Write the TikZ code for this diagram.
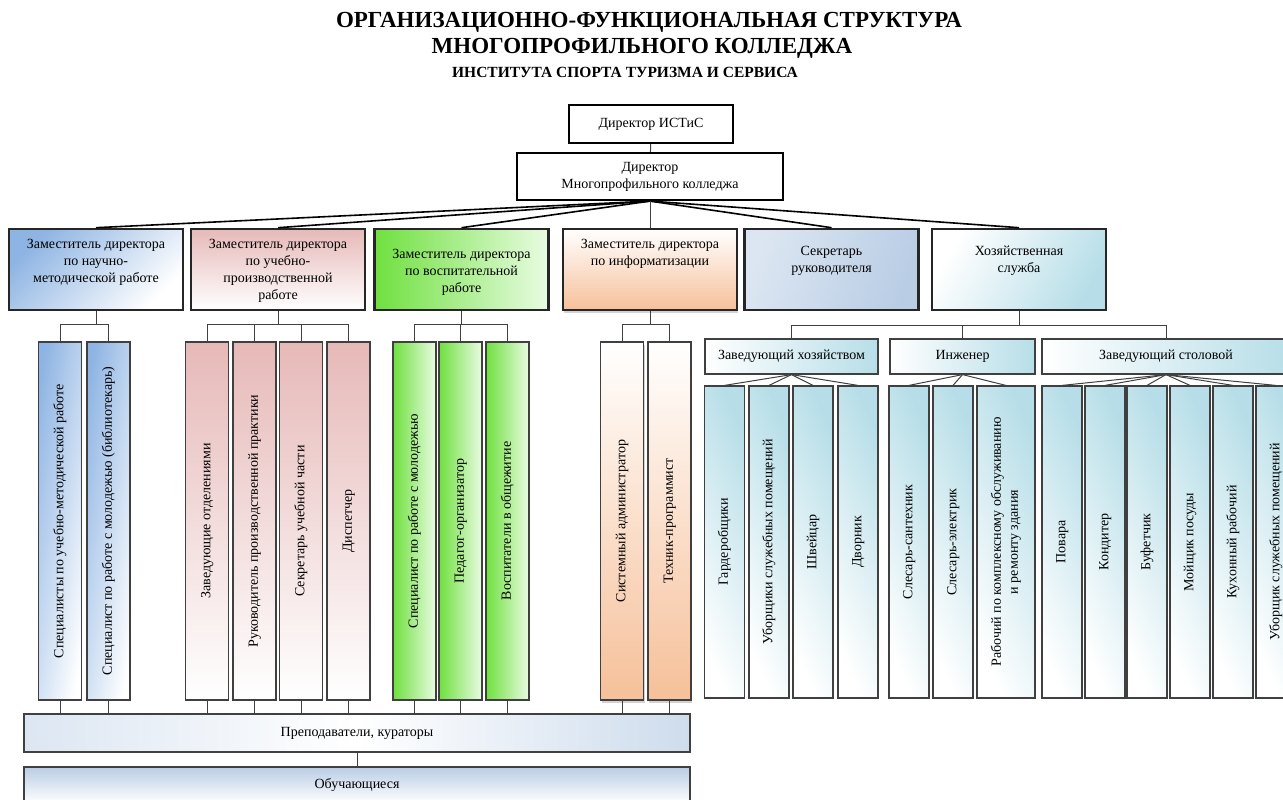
\documentclass[tikz,border=0pt]{standalone}
\usepackage{fontspec}
\setmainfont{Liberation Serif}
\usepackage{graphicx}
\usetikzlibrary{shadows}

\definecolor{deepblue}{HTML}{8EB4E3}
\definecolor{rosepink}{HTML}{E6B9B8}
\definecolor{brightgreen}{HTML}{6FE03F}
\definecolor{palegreen}{HTML}{E9FCE2}
\definecolor{peach}{HTML}{F6C09A}
\definecolor{steelblue}{HTML}{B9CDE5}
\definecolor{mistblue}{HTML}{DCE6F2}
\definecolor{aqua}{HTML}{B7DEE8}
\definecolor{edge}{HTML}{404040}

\newcommand{\boxfont}{\fontsize{14}{17}\selectfont}
\newcommand{\toptext}[2]{\parbox[c][74pt][t]{170pt}{\centering\vspace*{#1}#2}}
\newcommand{\uptext}[1]{\rotatebox{90}{\begin{tabular}{@{}c@{}}#1\end{tabular}}}

\begin{document}
\begin{tikzpicture}[x=1pt,y=-1pt,
  every node/.style={font=\boxfont},
  headbox/.style={draw=black,line width=2.2pt,fill=white,inner sep=0pt,align=center},
  depbox/.style={draw=black!85,line width=2.6pt,minimum width=174pt,minimum height=81pt,inner sep=0pt},
  colbox/.style={draw=edge,line width=1.2pt,minimum width=43pt,minimum height=358pt,inner sep=0pt},
  lowbox/.style={draw=edge,line width=1.2pt,minimum width=40pt,minimum height=312pt,inner sep=0pt,
    left color=white,right color=aqua,shading angle=115},
  subbox/.style={draw=edge,line width=1.2pt,minimum height=35pt,inner sep=0pt,
    left color=white,right color=aqua},
  widebox/.style={draw=edge,line width=1.2pt,minimum width=666pt,inner sep=0pt},
  link/.style={draw=edge,line width=1pt},
  fan/.style={draw=black,line width=1.6pt},
  shadowed/.style={drop shadow={opacity=0.35,shadow xshift=1pt,shadow yshift=-2.5pt}}]
\useasboundingbox (0,0) rectangle (1283,800);
\clip (0,0) rectangle (1283,800);

% title
\node[font=\fontsize{23}{26}\selectfont\bfseries] (t1) at (649,22) {ОРГАНИЗАЦИОННО-ФУНКЦИОНАЛЬНАЯ СТРУКТУРА};
\node[font=\fontsize{23}{26}\selectfont\bfseries] (t2) at (642,48) {МНОГОПРОФИЛЬНОГО КОЛЛЕДЖА};
\node[font=\fontsize{15.5}{18}\selectfont\bfseries] (t3) at (625,72) {ИНСТИТУТА СПОРТА ТУРИЗМА И СЕРВИСА};

% directors
\node[headbox,minimum width=164pt,minimum height=38pt] (ist) at (651,124) {Директор ИСТиС};
\node[headbox,minimum width=266pt,minimum height=47pt] (dir) at (650,176.5) {Директор\\Многопрофильного колледжа};
\draw[link] (ist) -- (dir);

% deputies
\node[depbox,left color=deepblue,right color=white,shading angle=45] (dep1) at (96,269.5)
  {\toptext{6.5pt}{Заместитель директора\\по научно-\\методической работе}};
\node[depbox,top color=rosepink,bottom color=white] (dep2) at (278,269.5)
  {\toptext{6.5pt}{Заместитель директора\\по учебно-\\производственной\\работе}};
\node[depbox,left color=brightgreen,right color=palegreen] (dep3) at (461.5,269.5)
  {\toptext{16.5pt}{Заместитель директора\\по воспитательной\\работе}};
\node[depbox,top color=white,bottom color=peach,shadowed] (dep4) at (650,269.5)
  {\toptext{6.5pt}{Заместитель директора\\по информатизации}};
\node[depbox,left color=mistblue,right color=steelblue,shading angle=70] (dep5) at (831.5,269.5)
  {\toptext{13.5pt}{Секретарь\\руководителя}};
\node[depbox,left color=white,right color=aqua,shading angle=60] (dep6) at (1019,269.5)
  {\toptext{13.5pt}{Хозяйственная\\служба}};

\foreach \d in {dep1,dep2,dep3,dep5,dep6}
  \draw[fan] (dir.south) -- (\d.north);
\draw[link] (dir.south) -- (dep4.north);

% columns under the deputies
\foreach \n/\x/\t in {c11/60/{Специалисты по учебно-методической работе},
    c12/108.5/{Специалист по работе с молодежью (библиотекарь)}}
  \node[colbox,left color=deepblue,right color=white,shading angle=80] (\n) at (\x,521) {\uptext{\t}};
\foreach \n/\x/\t in {c21/207/{Заведующие отделениями},
    c22/254.5/{Руководитель производственной практики},
    c23/301/{Секретарь учебной части},c24/348.5/{Диспетчер}}
  \node[colbox,top color=rosepink,bottom color=white] (\n) at (\x,521) {\uptext{\t}};
\foreach \n/\x/\t in {c31/414.5/{Специалист по работе с молодежью},
    c32/460.5/{Педагог-организатор},c33/507.5/{Воспитатели в общежитие}}
  \node[colbox,left color=brightgreen,right color=palegreen] (\n) at (\x,521) {\uptext{\t}};
\foreach \n/\x/\t in {c41/622/{Системный администратор},c42/669.5/{Техник-программист}}
  \node[colbox,top color=white,bottom color=peach,shadowed] (\n) at (\x,521) {\uptext{\t}};

\draw[link] (dep1.south) -- ++(0,13) coordinate (b1);
\draw[link] (dep2.south) -- ++(0,13) coordinate (b2);
\draw[link] (dep3.south) -- ++(0,13) coordinate (b3);
\draw[link] (dep4.south) -- ++(0,13) coordinate (b4);
\foreach \c in {c11,c12} \draw[link] (b1) -| (\c.north);
\foreach \c in {c21,c22,c23,c24} \draw[link] (b2) -| (\c.north);
\foreach \c in {c31,c32,c33} \draw[link] (b3) -| (\c.north);
\foreach \c in {c41,c42} \draw[link] (b4) -| (\c.north);

% household service
\node[subbox,minimum width=173pt] (zx) at (791.5,356.5) {Заведующий хозяйством};
\node[subbox,minimum width=145pt] (ing) at (962.5,356.5) {Инженер};
\node[subbox,minimum width=248pt] (stol) at (1166,356.5) {Заведующий столовой};
\draw[link] (dep6.south) -- ++(0,14) coordinate (b6);
\foreach \s in {zx,ing,stol} \draw[link] (b6) -| (\s.north);

\foreach \n/\x/\t in {g1/724.5/{Гардеробщики},g2/769/{Уборщики служебных помещений},
    g3/813/{Швейцар},g4/858/{Дворник}}
  \node[lowbox] (\n) at (\x,542) {\uptext{\t}};
\foreach \n/\x/\t in {e1/909/{Слесарь-сантехник},e2/953/{Слесарь-электрик}}
  \node[lowbox] (\n) at (\x,542) {\uptext{\t}};
\node[lowbox,minimum width=58pt] (e3) at (1006,542)
  {\uptext{Рабочий по комплексному обслуживанию\\и ремонту здания}};
\foreach \n/\x/\t in {s1/1062/{Повара},s2/1105/{Кондитер},s3/1147/{Буфетчик},
    s4/1190/{Мойщик посуды},s5/1233/{Кухонный рабочий},s6/1276/{Уборщик служебных помещений}}
  \node[lowbox] (\n) at (\x,542) {\uptext{\t}};

\foreach \c in {g1,g2,g3,g4} \draw[link] (zx.south) -- (\c.north);
\foreach \c in {e1,e2,e3} \draw[link] (ing.south) -- (\c.north);
\foreach \c in {s1,s2,s3,s4,s5,s6} \draw[link] (stol.south) -- (\c.north);

% teachers and students
\node[widebox,minimum height=38pt,left color=mistblue,right color=steelblue!70,middle color=white] (prep) at (357,733) {Преподаватели, кураторы};
\node[widebox,minimum height=36pt,top color=steelblue,bottom color=white] (obuch) at (357,785) {Обучающиеся};
\foreach \c in {c11,c12,c21,c22,c23,c24,c31,c32,c33,c41,c42}
  \draw[link] (\c.south) -- (\c.south |- prep.north);
\draw[link] (prep) -- (obuch);
\end{tikzpicture}
\end{document}
